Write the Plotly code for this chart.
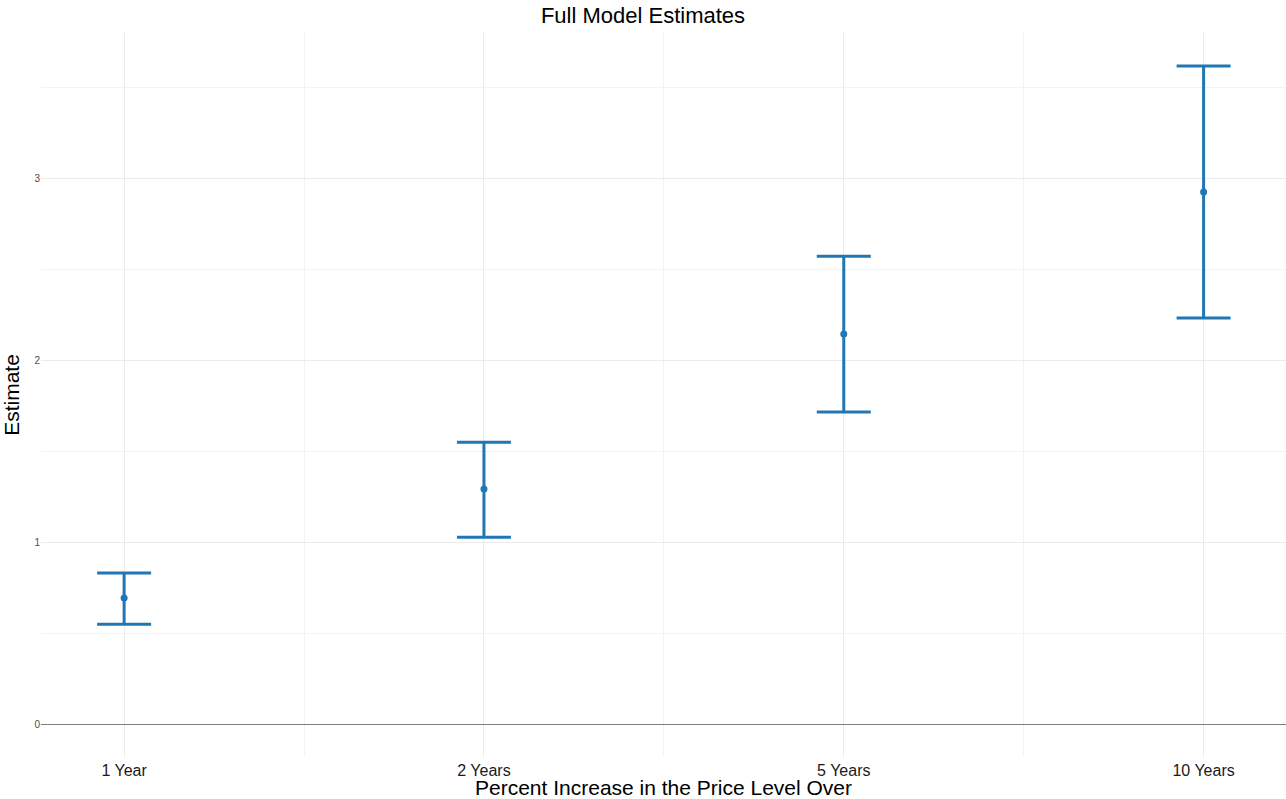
import plotly.graph_objects as go

# Horizon categories and model estimates with confidence bounds
categories = ["1 Year", "2 Years", "5 Years", "10 Years"]
estimates = [0.692, 1.291, 2.143, 2.923]
lower = [0.549, 1.027, 1.714, 2.231]
upper = [0.830, 1.549, 2.571, 3.615]

x_pos = list(range(len(categories)))
err_plus = [u - e for u, e in zip(upper, estimates)]
err_minus = [e - l for e, l in zip(estimates, lower)]

blue = "#2077b4"
grid = "#ebebeb"

fig = go.Figure()
fig.add_trace(go.Scatter(
    x=x_pos,
    y=estimates,
    mode="markers",
    marker=dict(color=blue, size=7),
    error_y=dict(
        type="data",
        symmetric=False,
        array=err_plus,
        arrayminus=err_minus,
        color=blue,
        thickness=3,
        width=27,
    ),
    showlegend=False,
))

font_family = "Liberation Sans, Arial, sans-serif"

fig.update_layout(
    width=1286,
    height=799,
    paper_bgcolor="white",
    plot_bgcolor="white",
    margin=dict(l=41, r=0, t=33, b=42, autoexpand=False),
    font=dict(family=font_family, color="#000000"),
    title=dict(
        text="Full Model Estimates",
        x=0.5,
        xanchor="center",
        y=1 - 15 / 799,
        yanchor="middle",
        font=dict(size=22, color="#000000"),
    ),
    xaxis=dict(
        range=[-0.231, 3.229],
        tickvals=x_pos,
        ticktext=categories,
        tickfont=dict(size=16, color="#1a1a1a"),
        ticklabelstandoff=2,
        showgrid=True,
        gridcolor=grid,
        gridwidth=1.2,
        zeroline=False,
        showline=False,
        ticks="",
        minor=dict(tickvals=[0.5, 1.5, 2.5], showgrid=True, gridcolor="#f3f3f3", gridwidth=1),
        title=dict(text="Percent Increase in the Price Level Over", font=dict(size=21, color="#000000"), standoff=0),
        fixedrange=True,
    ),
    yaxis=dict(
        range=[-0.181, 3.797],
        tickvals=[0, 1, 2, 3],
        ticktext=["0", "1", "2", "3"],
        tickfont=dict(size=10, color="#4d4d4d"),
        showgrid=True,
        gridcolor=grid,
        gridwidth=1.2,
        zeroline=True,
        zerolinecolor="#7f7f7f",
        zerolinewidth=1.2,
        showline=False,
        ticks="",
        minor=dict(tickvals=[0.5, 1.5, 2.5, 3.5], showgrid=True, gridcolor="#f3f3f3", gridwidth=1),
        title=dict(text="Estimate", font=dict(size=21, color="#000000"), standoff=12),
        fixedrange=True,
    ),
)

fig.write_html("out.html")
